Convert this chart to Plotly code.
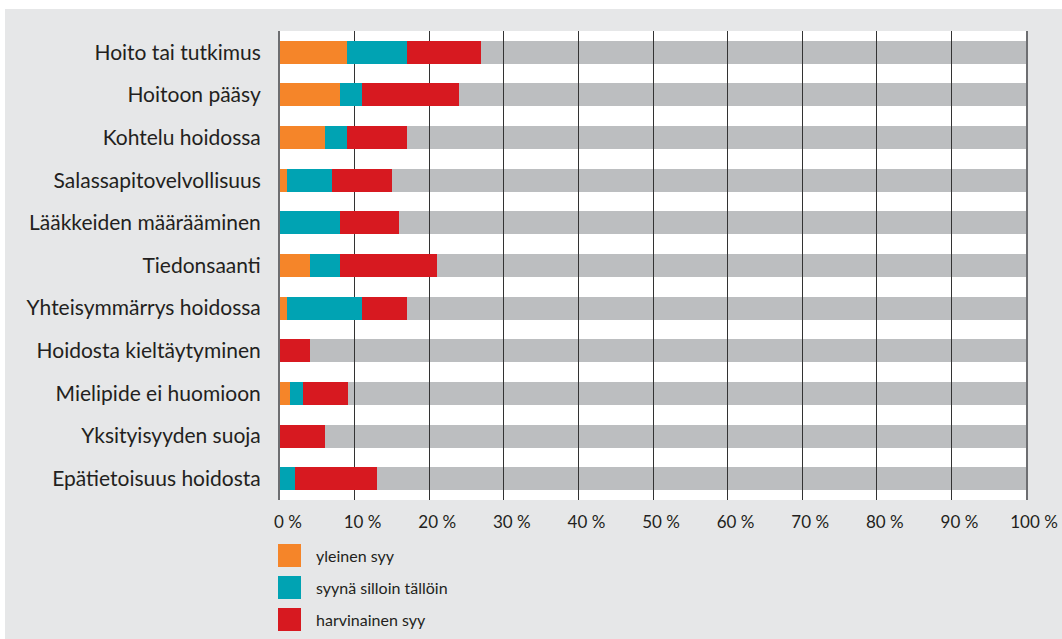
import plotly.graph_objects as go

# Reasons, top to bottom
categories = [
    "Hoito tai tutkimus",
    "Hoitoon pääsy",
    "Kohtelu hoidossa",
    "Salassapitovelvollisuus",
    "Lääkkeiden määrääminen",
    "Tiedonsaanti",
    "Yhteisymmärrys hoidossa",
    "Hoidosta kieltäytyminen",
    "Mielipide ei huomioon",
    "Yksityisyyden suoja",
    "Epätietoisuus hoidosta",
]

# Share of responses (%) per frequency class
yleinen_syy = [9, 8, 6, 1, 0, 4, 1, 0, 1.3, 0, 0]
silloin_talloin = [8, 3, 3, 6, 8, 4, 10, 0, 1.8, 0, 2]
harvinainen_syy = [10, 13, 8, 8, 8, 13, 6, 4, 6, 6, 11]

series_names = ["yleinen syy", "syynä silloin tällöin", "harvinainen syy"]
series_values = [yleinen_syy, silloin_talloin, harvinainen_syy]
series_colors = ["#F58529", "#00A3B3", "#D71920"]
rest_color = "#BCBEC0"

tick_values = list(range(0, 101, 10))
tick_labels = [f"{v} %" for v in tick_values]

totals = [sum(v) for v in zip(*series_values)]
remainder = [100 - t for t in totals]

W, H = 1062, 639
L, R, T, B = 280, 36, 31, 139
plot_w = W - L - R
plot_h = H - T - B


def px(x):
    return (x - L) / plot_w


def py(y):
    return (H - B - y) / plot_h


FONT = "Lato, 'Open Sans', sans-serif"
TEXT = "#231F20"
BAR_W = 0.54

fig = go.Figure()

# Lower subplot: the remaining share, drawn beneath the grid lines
fig.add_trace(go.Bar(
    y=categories, x=remainder, base=totals, orientation="h",
    marker=dict(color=rest_color, line=dict(width=0)),
    width=BAR_W, showlegend=False, xaxis="x", yaxis="y",
    hoverinfo="skip",
))

# Upper subplot: the three frequency classes, stacked over the grid lines
for name, vals, col in zip(series_names, series_values, series_colors):
    fig.add_trace(go.Bar(
        y=categories, x=vals, name=name, orientation="h",
        marker=dict(color=col, line=dict(width=0)),
        width=BAR_W, showlegend=False, xaxis="x2", yaxis="y2",
    ))

cat_range = [len(categories) - 0.5, -0.5]

shapes = [
    # panel background
    dict(type="rect", xref="paper", yref="paper",
         x0=px(5), x1=px(W + 2), y0=py(H + 2), y1=py(9),
         fillcolor="#E6E7E8", line=dict(width=0), layer="below"),
    # white plotting area
    dict(type="rect", xref="paper", yref="paper",
         x0=0, x1=1, y0=0, y1=1,
         fillcolor="#FFFFFF", line=dict(width=0), layer="below"),
]
annotations = []

# Legend: coloured squares with labels under the axis
sq = 23
for i, (name, col) in enumerate(zip(series_names, series_colors)):
    top = 544 + i * 32
    shapes.append(dict(type="rect", xref="paper", yref="paper",
                       x0=px(278), x1=px(278 + sq), y0=py(top + sq), y1=py(top),
                       fillcolor=col, line=dict(width=0), layer="above"))
    annotations.append(dict(xref="paper", yref="paper", x=px(314), y=py(top + sq / 2),
                            xanchor="left", yanchor="middle", showarrow=False,
                            text=name, font=dict(family=FONT, size=16, color=TEXT)))

fig.update_layout(
    width=W, height=H,
    margin=dict(l=L, r=R, t=T, b=B, pad=0, autoexpand=False),
    paper_bgcolor="#FFFFFF",
    plot_bgcolor="rgba(0,0,0,0)",
    barmode="stack",
    bargap=0,
    showlegend=False,
    font=dict(family=FONT, color=TEXT),
    xaxis=dict(domain=[0, 1], range=[0, 100], anchor="y", visible=False,
               showgrid=False, zeroline=False, fixedrange=True, automargin=False),
    yaxis=dict(domain=[0, 1], type="category", categoryarray=categories,
               range=cat_range, anchor="x", visible=False,
               showgrid=False, zeroline=False, fixedrange=True, automargin=False),
    xaxis2=dict(domain=[0, 1], range=[0, 100], anchor="y2",
                tickmode="array", tickvals=tick_values, ticktext=tick_labels,
                showgrid=True, gridcolor="#333333", gridwidth=1.3,
                zeroline=False, showline=False, ticks="",
                ticklabelstandoff=10, ticklabelshift=8,
                tickfont=dict(family=FONT, size=17, color=TEXT),
                fixedrange=True, automargin=False),
    yaxis2=dict(domain=[0, 1], type="category", categoryarray=categories,
                range=cat_range, anchor="x2",
                showgrid=False, zeroline=False,
                showline=True, mirror=True, linecolor="#6D6E71", linewidth=2,
                ticks="", ticklabelstandoff=13,
                tickfont=dict(family=FONT, size=21, color=TEXT),
                fixedrange=True, automargin=False),
    shapes=shapes,
    annotations=annotations,
)

fig.write_html("out.html")
